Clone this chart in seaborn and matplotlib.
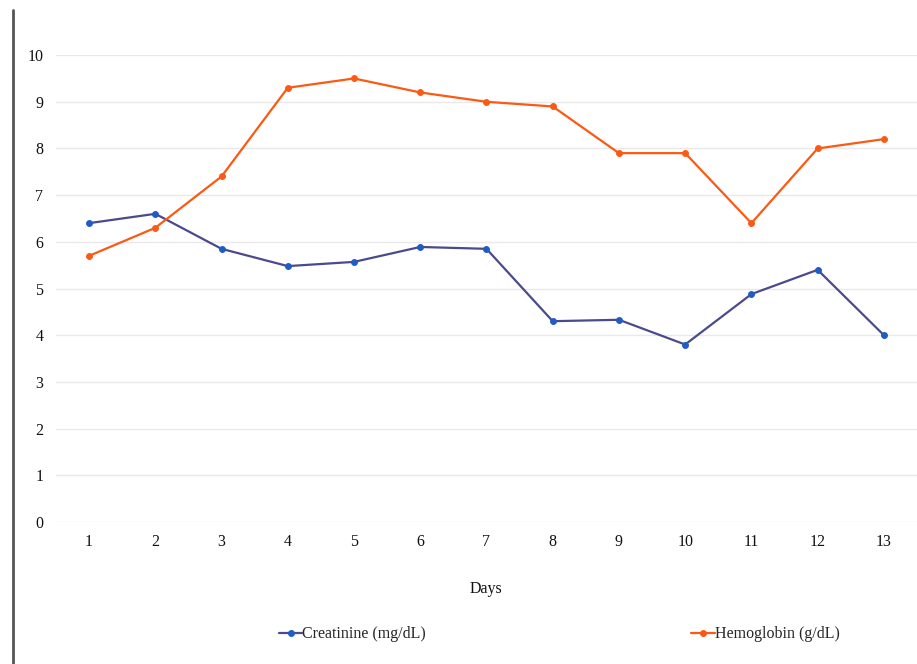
import numpy as np
import pandas as pd
import matplotlib
matplotlib.use("Agg")
import matplotlib.pyplot as plt
import seaborn as sns
from matplotlib.lines import Line2D

days = list(range(1, 14))
creatinine = [6.40, 6.60, 5.85, 5.48, 5.57, 5.89, 5.85, 4.30, 4.33, 3.80, 4.88, 5.40, 4.00]
hemoglobin = [5.70, 6.30, 7.40, 9.30, 9.50, 9.20, 9.00, 8.90, 7.90, 7.90, 6.40, 8.00, 8.20]
y_ticks = list(range(0, 11))

sns.set_theme(style="white")
plt.rcParams['font.family'] = ['Liberation Serif', 'DejaVu Serif']

fig = plt.figure(figsize=(9.17, 6.64), dpi=100)
ax = fig.add_axes([0.061, 0.214, 0.939, 0.703])

df_c = pd.DataFrame({'Days': days, 'valor': creatinine})
df_h = pd.DataFrame({'Days': days, 'valor': hemoglobin})

sns.lineplot(data=df_c, x='Days', y='valor', ax=ax, color='#4a4a8c', linewidth=1.6,
             marker='o', markersize=4.2, markerfacecolor='#1f5cc4', markeredgecolor='#1f5cc4',
             clip_on=False, zorder=3)
sns.lineplot(data=df_h, x='Days', y='valor', ax=ax, color='#fa5a14', linewidth=1.6,
             marker='o', markersize=4.2, markerfacecolor='#fa5a14', markeredgecolor='#fa5a14',
             clip_on=False, zorder=3)

ax.set_xlim(0.5, 13.5)
ax.set_ylim(0, 10)
ax.set_xticks(days)
ax.set_yticks(y_ticks)
ax.yaxis.grid(True, color='#e9e9e9', linewidth=1)
ax.xaxis.grid(False)
for s in ax.spines.values():
    s.set_visible(False)
ax.tick_params(axis='both', length=0, labelsize=11.5, colors='#111111')
ax.tick_params(axis='x', pad=9)
ax.tick_params(axis='y', pad=9)
ax.set_xlabel('Days', fontsize=11.5, labelpad=22, color='#111111')
ax.set_ylabel('')

handles = [
    Line2D([], [], color='#4a4a8c', linewidth=1.6, marker='o', markersize=4,
           markerfacecolor='#1f5cc4', markeredgecolor='#1f5cc4'),
    Line2D([], [], color='#fa5a14', linewidth=1.6, marker='o', markersize=4,
           markerfacecolor='#fa5a14', markeredgecolor='#fa5a14'),
]
fig.legend(handles, ['Creatinine (mg/dL)', 'Hemoglobin (g/dL)'], loc='center',
           bbox_to_anchor=(0.61, 0.045), ncol=2, frameon=False, fontsize=11.5,
           handlelength=1.5, handletextpad=0.0, columnspacing=16.6)

# borda vertical à esquerda
fig.add_artist(Line2D([13 / 917, 13 / 917], [0, 1 - 10 / 664], color='#555555', linewidth=2))

fig.savefig('out.png', dpi=100)
